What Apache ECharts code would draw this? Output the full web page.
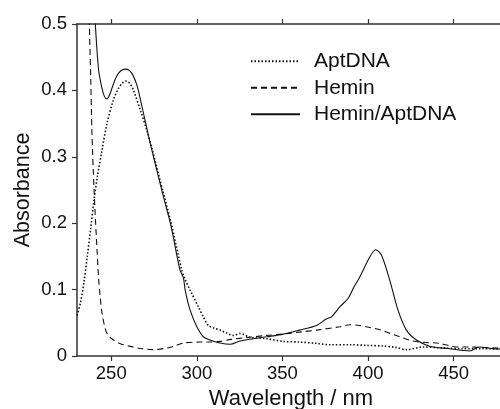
<!DOCTYPE html>
<html>
<head>
<meta charset="utf-8">
<script src="https://cdn.jsdelivr.net/npm/echarts@6/dist/echarts.min.js"></script>
<style>
html,body{margin:0;padding:0;background:#fff;}
#chart{width:500px;height:409px;}
</style>
</head>
<body>
<div id="chart"></div>
<script>
// Wavelength (nm) / absorbance pairs
const seriesNames = ['AptDNA', 'Hemin', 'Hemin/AptDNA'];
const xTicks = [250, 300, 350, 400, 450];
const yTicks = [0, 0.1, 0.2, 0.3, 0.4, 0.5];

const aptDNA = [
  [230,0.061],[232,0.08],[234,0.11],[236,0.15],[238,0.192],[240,0.236],[242,0.272],[244.6,0.31],
  [247.5,0.35],[251.3,0.386],[254,0.402],[256.5,0.411],[258.7,0.414],[261,0.41],[263,0.40],
  [266.9,0.371],[270.8,0.34],[273.7,0.313],[280,0.25],[285,0.2],[291.2,0.129],[293.2,0.115],
  [296.1,0.099],[300.9,0.074],[303.8,0.059],[306.7,0.046],[310,0.042],[313.6,0.039],[317,0.035],
  [321.3,0.031],[325.2,0.034],[331.1,0.028],[340.8,0.026],[350.5,0.022],[360,0.021],[369.7,0.019],
  [377.7,0.017],[389.4,0.017],[399.2,0.016],[408.9,0.015],[416,0.013],[422.4,0.0096],[432.1,0.0136],
  [443.8,0.012],[455.4,0.011],[467,0.011],[476.7,0.0106],[480,0.0105]
];

const hemin = [
  [230,1.2],[236,0.62],[237.2,0.5],[238,0.42],[238.7,0.34],[239.5,0.28],[240.5,0.22],[241.7,0.16],
  [242.6,0.117],[243.5,0.09],[244.6,0.065],[246.5,0.041],[248,0.032],[250.4,0.026],[255,0.019],
  [261,0.0145],[268,0.011],[274.7,0.0096],[282.5,0.012],[287,0.015],[292.2,0.0196],[301.9,0.021],
  [306.7,0.021],[313.6,0.022],[320,0.025],[330,0.028],[340.8,0.031],[350,0.033],[360,0.036],
  [370,0.039],[383.5,0.044],[389.4,0.047],[395,0.046],[401,0.043],[407.8,0.039],[413,0.034],
  [418.5,0.029],[424,0.024],[430.2,0.021],[441.8,0.019],[451.6,0.0136],[459,0.0136],[465,0.013],
  [476,0.012],[480,0.012]
];

const heminApt = [
  [230,1.3],[236,0.72],[239,0.58],[240.7,0.5],[242.6,0.431],[244.6,0.403],[246,0.391],[247.5,0.387],
  [249,0.393],[250.4,0.403],[252.5,0.418],[254.3,0.426],[256.5,0.431],[258.2,0.432],[260,0.431],
  [262,0.426],[265,0.408],[268,0.375],[273,0.318],[280,0.245],[285,0.195],[290,0.131],[292.2,0.117],
  [293.2,0.099],[296.1,0.069],[300,0.044],[303.8,0.029],[307.7,0.024],[313.6,0.0196],[319.4,0.0177],
  [325.2,0.0226],[333,0.026],[340.8,0.029],[350.5,0.033],[360,0.039],[369.9,0.046],[375.8,0.056],
  [378.7,0.059],[383.5,0.074],[388.4,0.087],[392,0.105],[395.2,0.119],[401,0.149],[404.5,0.160],
  [407.8,0.152],[412.7,0.114],[417.5,0.069],[422.4,0.039],[428.3,0.024],[436,0.0146],[447.7,0.011],
  [459.3,0.0075],[465.1,0.0136],[474.9,0.0106],[480,0.0105]
];

const FONT = '"Liberation Sans", Arial, sans-serif';
const TXT = '#111';
const AX = '#333';

const chart = echarts.init(document.getElementById('chart'), null, {renderer: 'canvas'});

function lineSeries(name, data, type, width) {
  return {
    name: name,
    type: 'line',
    data: data,
    showSymbol: false,
    symbol: 'none',
    smooth: 0.3,
    clip: true,
    lineStyle: {color: '#111', width: width, type: type},
    itemStyle: {color: '#111'}
  };
}

chart.setOption({
  animation: false,
  backgroundColor: '#fff',
  grid: {left: 77, right: -5, top: 24, bottom: 53, containLabel: false, outerBoundsMode: 'none'},
  legend: {
    orient: 'vertical',
    left: 250,
    top: 48,
    padding: 0,
    itemWidth: 49,
    itemHeight: 14,
    itemGap: 0,
    data: seriesNames,
    itemStyle: {opacity: 0},
    textStyle: {fontFamily: FONT, fontSize: 21, color: TXT, lineHeight: 26.5, padding: [0, 0, 0, 9]}
  },
  xAxis: [{
    type: 'value',
    min: 230,
    max: 480,
    position: 'bottom',
    name: 'Wavelength / nm',
    nameLocation: 'middle',
    nameGap: 32,
    nameMoveOverlap: false,
    nameTextStyle: {fontFamily: FONT, fontSize: 22, color: TXT},
    axisLine: {show: true, lineStyle: {color: AX, width: 1.5}},
    axisTick: {show: true, length: 5, inside: false, customValues: xTicks, lineStyle: {color: AX, width: 1.2}},
    axisLabel: {customValues: xTicks, fontFamily: FONT, fontSize: 18.5, color: TXT, margin: 8},
    splitLine: {show: false}
  }, {
    type: 'value',
    min: 230,
    max: 480,
    position: 'top',
    axisLine: {show: true, onZero: false, lineStyle: {color: AX, width: 1.5}},
    axisTick: {show: true, length: 5, inside: false, customValues: xTicks, lineStyle: {color: AX, width: 1.2}},
    axisLabel: {show: false},
    splitLine: {show: false}
  }],
  yAxis: {
    type: 'value',
    min: 0,
    max: 0.5,
    interval: 0.1,
    name: 'Absorbance',
    nameLocation: 'middle',
    nameGap: 43,
    nameMoveOverlap: false,
    nameRotate: 90,
    nameTextStyle: {fontFamily: FONT, fontSize: 21.5, color: TXT},
    axisLine: {show: true, lineStyle: {color: AX, width: 1.5}},
    axisTick: {show: true, length: 5, inside: false, lineStyle: {color: AX, width: 1.2}},
    axisLabel: {
      fontFamily: FONT, fontSize: 18.5, color: TXT, margin: 10,
      formatter: function (v) { return v === 0 ? '0' : v.toFixed(1); }
    },
    splitLine: {show: false}
  },
  series: [
    lineSeries('AptDNA', aptDNA, [1.5, 2], 1.6),
    lineSeries('Hemin', hemin, [6, 4], 1.1),
    lineSeries('Hemin/AptDNA', heminApt, 'solid', 1.1)
  ]
});
</script>
</body>
</html>
